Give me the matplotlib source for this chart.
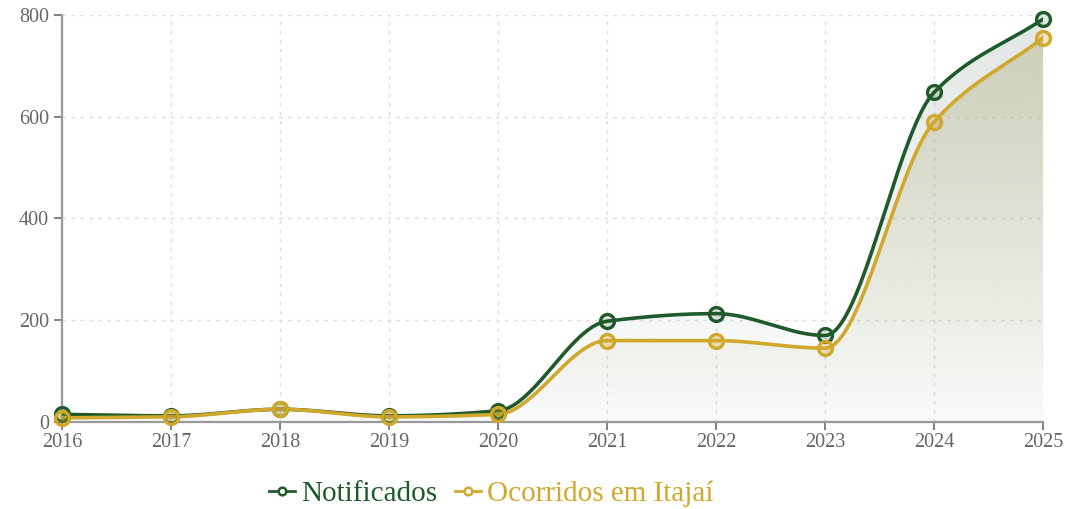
import numpy as np
import matplotlib
matplotlib.use("Agg")
import matplotlib.pyplot as plt
from matplotlib.path import Path
from matplotlib.patches import PathPatch
from matplotlib.lines import Line2D

years = [2016, 2017, 2018, 2019, 2020, 2021, 2022, 2023, 2024, 2025]
notificados = [15, 12, 25, 12, 22, 198, 213, 170, 648, 792]
ocorridos = [8, 10, 25, 10, 15, 160, 160, 145, 590, 755]
yticks = [0, 200, 400, 600, 800]

C_NOT = "#1f5a2a"
C_OCO = "#d0a82c"


def monotone(x, y, n=40):
    x = np.asarray(x, float); y = np.asarray(y, float)
    h = np.diff(x); d = np.diff(y) / h
    m = np.zeros_like(y)
    m[0] = d[0]; m[-1] = d[-1]
    for i in range(1, len(x) - 1):
        if d[i - 1] * d[i] <= 0:
            m[i] = 0
        else:
            w1 = 2 * h[i] + h[i - 1]; w2 = h[i] + 2 * h[i - 1]
            m[i] = (w1 + w2) / (w1 / d[i - 1] + w2 / d[i])
    xs, ys = [], []
    for i in range(len(x) - 1):
        t = np.linspace(0, 1, n, endpoint=(i == len(x) - 2))
        h00 = 2 * t**3 - 3 * t**2 + 1; h10 = t**3 - 2 * t**2 + t
        h01 = -2 * t**3 + 3 * t**2; h11 = t**3 - t**2
        xs.append(x[i] + t * h[i])
        ys.append(h00 * y[i] + h10 * h[i] * m[i] + h01 * y[i + 1] + h11 * h[i] * m[i + 1])
    return np.concatenate(xs), np.concatenate(ys)


fig = plt.figure(figsize=(10.72, 5.09), dpi=100)
ax = fig.add_axes([0.058, 0.171, 0.915, 0.7995])
ax.set_xlim(2016, 2025)
ax.set_ylim(0, 800)


def grad_fill(xs, ys, rgb, a_top, a_bot, z):
    verts = [(xs[0], 0)] + list(zip(xs, ys)) + [(xs[-1], 0), (xs[0], 0)]
    path = Path(verts)
    patch = PathPatch(path, facecolor="none", edgecolor="none")
    ax.add_patch(patch)
    ymax = max(ys)
    g = np.linspace(a_top, a_bot, 256)[:, None]
    img = np.zeros((256, 2, 4))
    img[..., :3] = matplotlib.colors.to_rgb(rgb)
    img[..., 3] = g
    im = ax.imshow(img, extent=[xs[0], xs[-1], 0, ymax], aspect="auto",
                   origin="upper", zorder=z, interpolation="bilinear")
    im.set_clip_path(patch)


xn, yn = monotone(years, notificados)
xo, yo = monotone(years, ocorridos)
grad_fill(xn, yn, "#6f8c80", 0.2, 0.02, 1)
grad_fill(xo, yo, "#adad7a", 0.42, 0.02, 1.1)

ax.plot(xn, yn, color=C_NOT, lw=2.6, zorder=3, solid_capstyle="round")
ax.plot(xo, yo, color=C_OCO, lw=2.6, zorder=4, solid_capstyle="round")
ax.plot(years, notificados, ls="none", marker="o", ms=10, mew=2.4,
        mec=C_NOT, mfc=(0.12, 0.35, 0.16, 0.15), zorder=5, clip_on=False)
ax.plot(years, ocorridos, ls="none", marker="o", ms=10, mew=2.4,
        mec=C_OCO, mfc=(0.82, 0.66, 0.17, 0.3), zorder=6, clip_on=False)

ax.set_xticks(years)
ax.set_xticklabels([str(y) for y in years])
ax.set_yticks(yticks)
ax.grid(True, color="#dddddd", ls=(0, (2.5, 4)), lw=1)
ax.set_axisbelow(True)
for s in ["top", "right"]:
    ax.spines[s].set_visible(False)
for s in ["left", "bottom"]:
    ax.spines[s].set_color("#999999")
    ax.spines[s].set_linewidth(1.6)
ax.tick_params(axis="both", colors="#777777", labelcolor="#666666",
               labelsize=14.5, length=6, width=1.3)
ax.tick_params(axis="x", pad=2)
for lab in ax.get_xticklabels() + ax.get_yticklabels():
    lab.set_family("Liberation Serif")

handles = [Line2D([], [], color=C_NOT, lw=2, marker="o", ms=5.5, mew=1.8, mfc="white"),
           Line2D([], [], color=C_OCO, lw=2, marker="o", ms=5.5, mew=1.8, mfc="white")]
leg = fig.legend(handles, ["Notificados", "Ocorridos em Itajaí"], loc="center",
                 bbox_to_anchor=(0.458, 0.03), ncol=2, frameon=False,
                 prop={"family": "Liberation Serif", "size": 21},
                 handlelength=0.9, handletextpad=0.2, columnspacing=0.6)
for t, c in zip(leg.get_texts(), [C_NOT, C_OCO]):
    t.set_color(c)

fig.savefig("out.png", dpi=100)
